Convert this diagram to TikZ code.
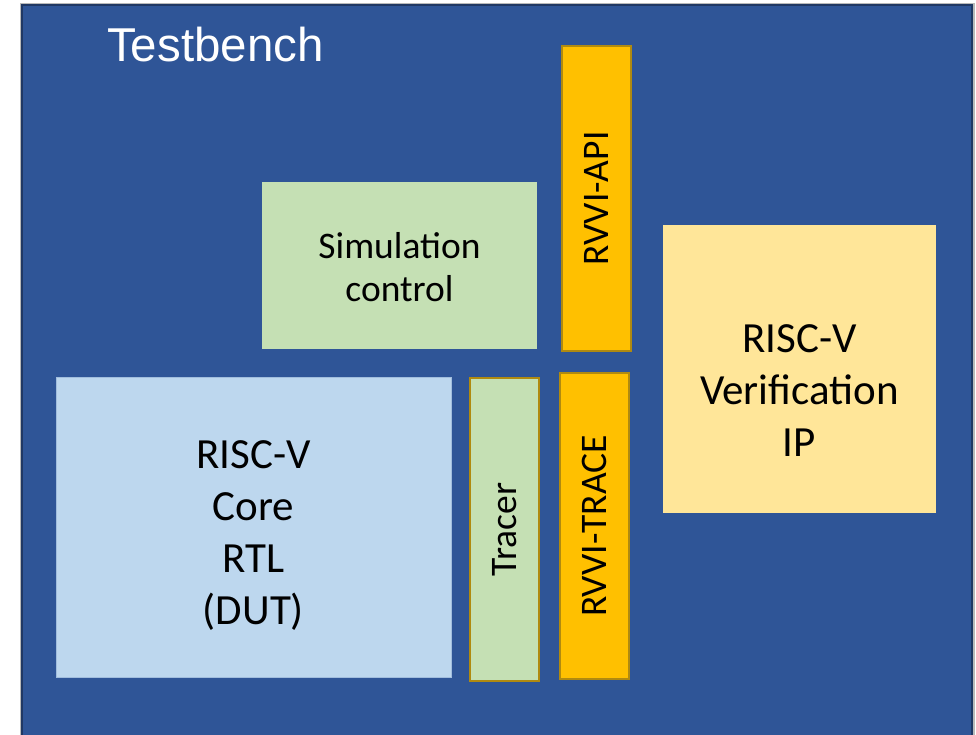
\documentclass[tikz,border=0pt]{standalone}
\usepackage{fontspec}
\setmainfont{Carlito}
\newfontfamily\arialfont{Liberation Sans}
\definecolor{tbblue}{HTML}{2F5597}
\definecolor{tbdark}{HTML}{203864}
\definecolor{simgreen}{HTML}{C5E0B4}
\definecolor{goldfill}{HTML}{FFC000}
\definecolor{goldedge}{HTML}{B08A10}
\definecolor{vipyellow}{HTML}{FFE699}
\definecolor{dutblue}{HTML}{BDD7EE}
\begin{document}
\begin{tikzpicture}[x=1pt,y=-1pt,
  blk/.style={anchor=north west, inner sep=0pt, outer sep=0pt, align=center, text=black},
  goldbox/.style={blk, fill=goldfill, draw=goldedge, line width=2.5pt},
  bigtxt/.style={font=\fontsize{43}{52}\selectfont},
  midtxt/.style={font=\fontsize{37.5}{43}\selectfont},
  rottxt/.style={font=\fontsize{37.5}{43}\selectfont, rotate=90}]
\useasboundingbox (0,0) rectangle (976,735);
\fill[white] (0,0) rectangle (976,735);
% outer frame
\fill[gray!55] (20,3) rectangle (975,735);
\node[blk, fill=tbblue, draw=tbdark, line width=1.2pt, minimum width=950pt, minimum height=735pt] (tb) at (22,5) {};
\node[anchor=base west, inner sep=0pt, text=white, font=\arialfont\fontsize{47.5}{50}\selectfont] (tblabel) at (107,62) {Testbench};
% Simulation control
\node[blk, fill=simgreen, minimum width=275pt, minimum height=167pt] (sim) at (262,182) {};
\node[midtxt, align=center] (simtxt) at ([yshift=-2pt]sim.center) {Simulation\\control};
% RVVI-API
\node[goldbox, minimum width=69pt, minimum height=305pt] (api) at (562,46) {};
\node[rottxt] (apitxt) at (api.center) {RVVI-API};
% Verification IP
\node[blk, fill=vipyellow, minimum width=273pt, minimum height=288pt] (vip) at (663,225) {};
\node[bigtxt, align=center] (viptxt) at ([yshift=-22pt]vip.center) {RISC-V\\Verification\\IP};
% DUT
\node[blk, fill=dutblue, draw=dutblue!80!tbblue, line width=0.8pt, minimum width=395pt, minimum height=300pt] (dut) at (56,377) {};
\node[bigtxt, align=center] (duttxt) at ([yshift=-9pt]dut.center) {RISC-V\\Core\\RTL\\(DUT)};
% Tracer
\node[blk, fill=simgreen, draw=goldedge, line width=2.5pt, minimum width=69pt, minimum height=303pt] (tracer) at (470,378) {};
\node[rottxt] (tracertxt) at (tracer.center) {Tracer};
% RVVI-TRACE
\node[goldbox, minimum width=69pt, minimum height=306pt] (trace) at (560,373) {};
\node[rottxt] (tracetxt) at (trace.center) {RVVI-TRACE};
\end{tikzpicture}
\end{document}
